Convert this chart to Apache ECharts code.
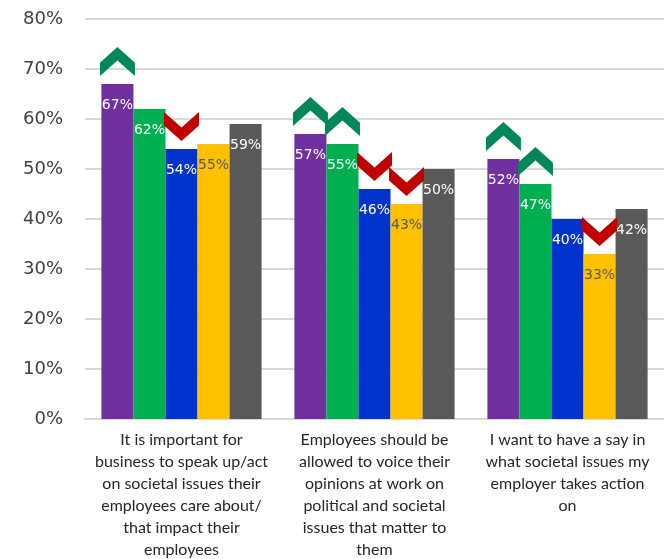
<!DOCTYPE html>
<html>
<head>
<meta charset="utf-8">
<style>
  html, body { margin: 0; padding: 0; background: #ffffff; }
  #chart { width: 664px; height: 559px; }
</style>
<script src="https://cdn.jsdelivr.net/npm/echarts@6/dist/echarts.min.js"></script>
</head>
<body>
<div id="chart"></div>
<script>
// Statements shown along the x axis
const categories = [
  'It is important for\nbusiness to speak up/act\non societal issues their\nemployees care about/\nthat impact their\nemployees',
  'Employees should be\nallowed to voice their\nopinions at work on\npolitical and societal\nissues that matter to\nthem',
  'I want to have a say in\nwhat societal issues my\nemployer takes action\non'
];

// Percent agreeing, one array per group
const seriesNames = ['Group A', 'Group B', 'Group C', 'Group D', 'Group E'];
const valuesA = [67, 57, 52];
const valuesB = [62, 55, 47];
const valuesC = [54, 46, 40];
const valuesD = [55, 43, 33];
const valuesE = [59, 50, 42];

// Significance arrows: 'up', 'down' or null for each category
const arrowsA = ['up', 'up', 'up'];
const arrowsB = [null, 'up', 'up'];
const arrowsC = ['down', 'down', null];
const arrowsD = [null, 'down', 'down'];
const arrowsE = [null, null, null];

const yTicks = [0, 10, 20, 30, 40, 50, 60, 70, 80];

const barColors = ['#7030a0', '#00b050', '#0033cc', '#ffc000', '#595959'];
const labelColors = ['#ffffff', '#ffffff', '#ffffff', '#595959', '#ffffff'];

const UP_PATH = 'path://M50,0 L100,47 L100,86 L50,40 L0,86 L0,47 Z';
const DOWN_PATH = 'path://M0,0 L50,46 L100,0 L100,40 L50,86 L0,40 Z';
const ARROW_W = 35, ARROW_H = 29, ARROW_GAP = 8;

const allValues = [valuesA, valuesB, valuesC, valuesD, valuesE];
const allArrows = [arrowsA, arrowsB, arrowsC, arrowsD, arrowsE];

const series = allValues.map((vals, s) => {
  const marks = [];
  allArrows[s].forEach((dir, i) => {
    if (!dir) return;
    marks.push({
      coord: [i, vals[i]],
      symbol: dir === 'up' ? UP_PATH : DOWN_PATH,
      itemStyle: { color: dir === 'up' ? '#00875a' : '#c00000' }
    });
  });
  return {
    name: seriesNames[s],
    type: 'bar',
    data: vals,
    barGap: '0%',
    barCategoryGap: '17%',
    itemStyle: { color: barColors[s] },
    label: {
      show: true,
      position: 'insideTop',
      distance: 14,
      formatter: '{c}%',
      color: labelColors[s],
      fontFamily: '"DejaVu Sans", sans-serif',
      fontSize: 14
    },
    markPoint: {
      symbolSize: [ARROW_W, ARROW_H],
      symbolOffset: [0, -(ARROW_GAP + ARROW_H / 2)],
      label: { show: false },
      silent: true,
      animation: false,
      data: marks
    }
  };
});

const chart = echarts.init(document.getElementById('chart'), null, { renderer: 'canvas' });
chart.setOption({
  animation: false,
  grid: {
    left: 85, right: 0, top: 19, bottom: 140,
    containLabel: false,
    outerBoundsMode: 'none'
  },
  xAxis: {
    type: 'category',
    data: categories,
    axisLine: { show: true, lineStyle: { color: '#d9d9d9', width: 2 } },
    axisTick: { show: false },
    axisLabel: {
      interval: 0,
      margin: 10,
      color: '#262626',
      fontFamily: 'Lato, "Noto Sans", sans-serif',
      fontSize: 16,
      lineHeight: 22,
      align: 'center'
    }
  },
  yAxis: {
    type: 'value',
    min: yTicks[0],
    max: yTicks[yTicks.length - 1],
    interval: 10,
    axisLine: { show: false },
    axisTick: { show: false },
    splitLine: { show: true, lineStyle: { color: '#d9d9d9', width: 2 } },
    axisLabel: {
      margin: 22,
      formatter: '{value}%',
      color: '#404040',
      fontFamily: '"DejaVu Sans", sans-serif',
      fontSize: 18
    }
  },
  series: series
});
</script>
</body>
</html>
